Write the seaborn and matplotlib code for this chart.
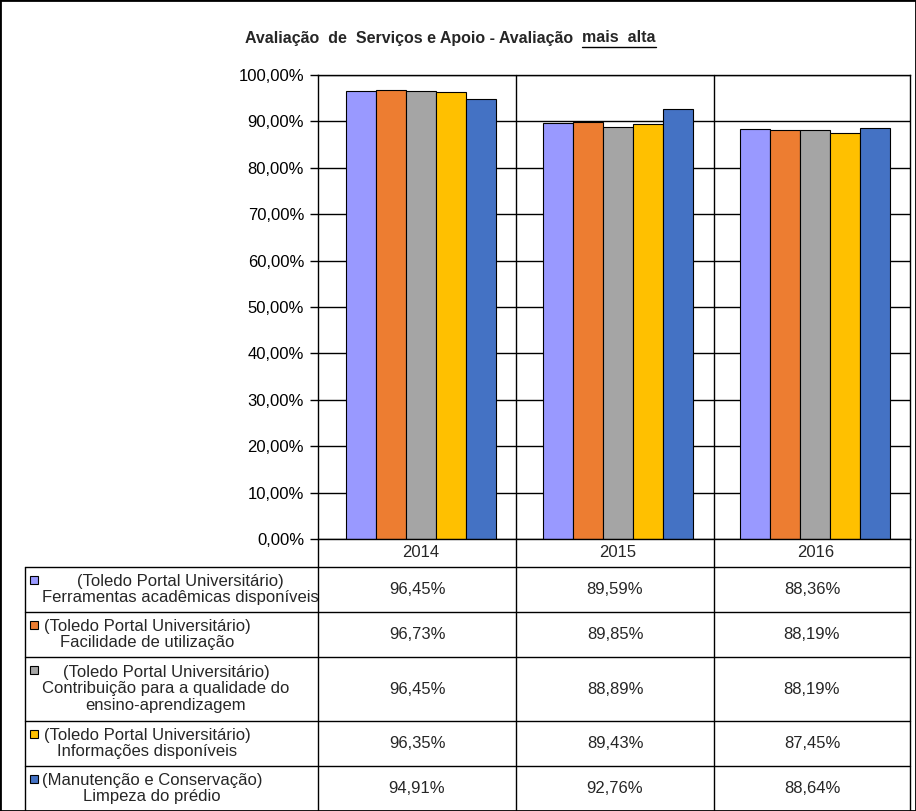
import numpy as np
import pandas as pd
import matplotlib
matplotlib.use("Agg")
import matplotlib.pyplot as plt
from matplotlib.lines import Line2D
from matplotlib.patches import Rectangle
import seaborn as sns

# Dados do gráfico
anos = ["2014", "2015", "2016"]
series = [
    "(Toledo Portal Universitário)\nFerramentas acadêmicas disponíveis",
    "(Toledo Portal Universitário)\nFacilidade de utilização",
    "(Toledo Portal Universitário)\nContribuição para a qualidade do\nensino-aprendizagem",
    "(Toledo Portal Universitário)\nInformações disponíveis",
    "(Manutenção e Conservação)\nLimpeza do prédio",
]
ferramentas = [96.45, 89.59, 88.36]
facilidade = [96.73, 89.85, 88.19]
contribuicao = [96.45, 88.89, 88.19]
informacoes = [96.35, 89.43, 87.45]
limpeza = [94.91, 92.76, 88.64]
cores = ["#9999FF", "#ED7D31", "#A5A5A5", "#FFC000", "#4472C4"]
titulo = "Avaliação  de  Serviços e Apoio - Avaliação  "
titulo_sub = "mais  alta"

valores = [ferramentas, facilidade, contribuicao, informacoes, limpeza]
df = pd.DataFrame([
    {"ano": a, "serie": s, "valor": v}
    for s, vals in zip(series, valores)
    for a, v in zip(anos, vals)
])

sns.set_style("white")
plt.rcParams["font.family"] = ["Liberation Sans", "DejaVu Sans"]

W, H = 916, 811
def fx(px):
    return px / W
def fy(py):
    return 1 - py / H

fig = plt.figure(figsize=(W / 100, H / 100), dpi=100)
ax = fig.add_axes([fx(318), fy(539), (910 - 318) / W, (539 - 75) / H])

sns.barplot(data=df, x="ano", y="valor", hue="serie", palette=cores,
            edgecolor="black", linewidth=0.8, width=0.76, saturation=1,
            legend=False, ax=ax)

ax.set_ylim(0, 100)
ax.set_xlim(-0.52, 2.48)
ax.set_yticks(np.arange(0, 101, 10))
ax.set_yticklabels([f"{v:.2f}%".replace(".", ",") for v in np.arange(0, 101, 10)])
ax.yaxis.grid(True, color="black", lw=1)
ax.set_axisbelow(True)
ax.set_xlabel("")
ax.set_ylabel("")
for sp in ax.spines.values():
    sp.set_color("black")
    sp.set_linewidth(1)
ax.tick_params(axis="y", left=True, length=6, width=1, direction="out",
               labelsize=12, pad=4, colors="black")
ax.tick_params(axis="x", bottom=False, length=0, labelsize=12, pad=4)

# Tabela de dados
linhas_y = [567, 612, 657, 721, 766, 811]
col_x = [318, 516, 714, 910]
for y in linhas_y[:-1]:
    fig.add_artist(Line2D([fx(25), fx(910)], [fy(y), fy(y)], color="black", lw=1))
fig.add_artist(Line2D([fx(25), fx(25)], [fy(567), fy(811)], color="black", lw=1))
for x in col_x:
    y0 = 75 if x in (516, 714) else 539
    fig.add_artist(Line2D([fx(x), fx(x)], [fy(y0), fy(811)], color="black", lw=1))

centros_label = [180, 147, 166, 147, 152]
for i, (s, vals) in enumerate(zip(series, valores)):
    y_top, y_bot = linhas_y[i], linhas_y[i + 1]
    yc = (y_top + y_bot) / 2
    n = s.count("\n") + 1
    fig.text(fx(centros_label[i]), fy(yc), s, ha="center", va="center",
             multialignment="center", fontsize=12, linespacing=1.15)
    primeira = yc - (n - 1) * 19 / 2
    fig.add_artist(Rectangle((fx(30), fy(primeira + 4)), 8 / W, 8 / H,
                             facecolor=cores[i], edgecolor="black", lw=0.8))
    for j, v in enumerate(vals):
        xc = (col_x[j] + col_x[j + 1]) / 2
        fig.text(fx(xc), fy(yc), f"{v:.2f}%".replace(".", ","), ha="center",
                 va="center", fontsize=12)

# Título com sublinhado
t1 = fig.text(fx(245), fy(38), titulo, ha="left", va="center",
              fontsize=11.5, fontweight="bold")
fig.canvas.draw()
r = fig.canvas.get_renderer()
bb = t1.get_window_extent(r)
t2 = fig.text(bb.x1 / W, fy(38), titulo_sub, ha="left", va="center",
              fontsize=11.5, fontweight="bold")
bb2 = t2.get_window_extent(r)
fig.add_artist(Line2D([bb2.x0 / W, bb2.x1 / W], [fy(47), fy(47)], color="black", lw=1))

fig.add_artist(Rectangle((0, 0), 1, 1, fill=False, edgecolor="black", lw=2,
                         transform=fig.transFigure))

fig.savefig("out.png", dpi=100, facecolor="white")
